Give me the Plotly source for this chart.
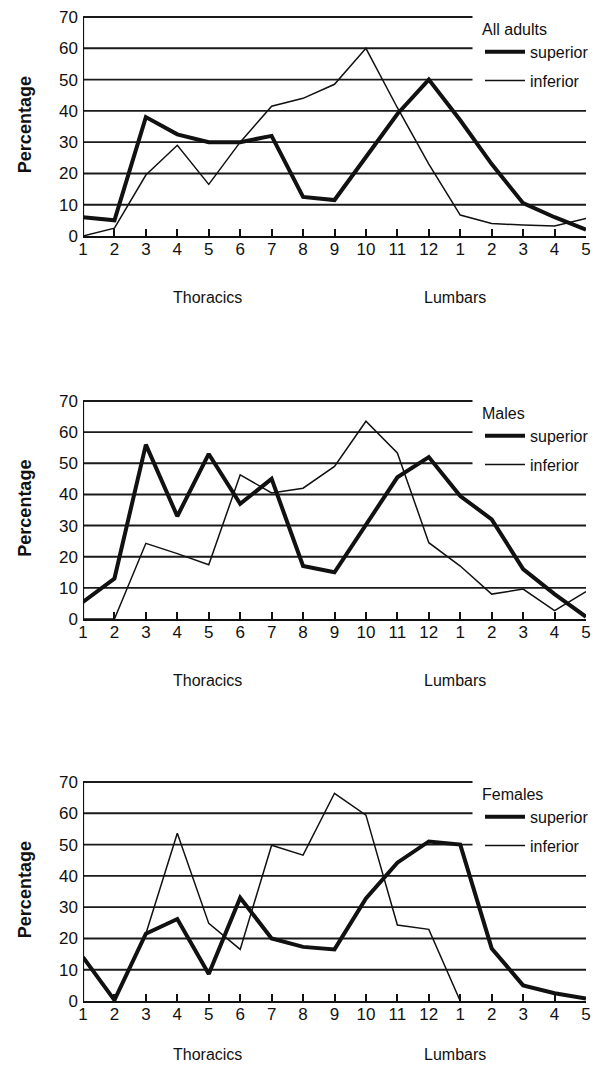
import plotly.graph_objects as go

# Vertebral positions: thoracic T1-T12 followed by lumbar L1-L5
tick_labels = ["1", "2", "3", "4", "5", "6", "7", "8", "9", "10", "11", "12",
               "1", "2", "3", "4", "5"]
positions = list(range(1, len(tick_labels) + 1))

# Percentages per vertebra (superior / inferior surfaces)
adults_superior = [6, 5, 38, 32.5, 30, 30, 32, 12.5, 11.5, 25, 39, 50, 37, 23, 10.5, 6, 2]
adults_inferior = [0, 2.5, 19.5, 29, 16.5, 30, 41.5, 44, 48.5, 60, 41, 23, 6.7, 4, 3.5, 3.2, 5.6]

males_superior = [5.5, 13, 56, 33, 53, 37, 45, 17, 15, 30, 45.5, 52, 39.5, 32, 16, 8, 0.7]
males_inferior = [0, 0, 24.3, 21, 17.4, 46.3, 40.5, 42, 49, 63.5, 53.3, 24.5, 17, 8, 9.6, 2.7, 8.8]

females_superior = [14, 0.3, 21.5, 26.2, 8.6, 33, 20, 17.3, 16.5, 32.8, 44.2, 51, 50, 16.8, 5, 2.5, 0.8]
females_inferior = [None, None, 21.5, 53.6, 24.8, 16.5, 49.8, 46.6, 66.4, 59.4, 24.3, 22.9, 0,
                    None, None, None, None]

panel_titles = ["All adults", "Males", "Females"]
series_names = ["superior", "inferior"]
y_ticks = [0, 10, 20, 30, 40, 50, 60, 70]

panels = [
    (panel_titles[0], adults_superior, adults_inferior),
    (panel_titles[1], males_superior, males_inferior),
    (panel_titles[2], females_superior, females_inferior),
]

W, H = 597, 1067
FONT = "Liberation Sans, Arial, Helvetica, sans-serif"
INK = "#111111"

# pixel geometry of each panel: (y of the 70 rule, y of the 0 axis, axis-label row)
panel_px = [(17, 236, 297), (401, 619, 680), (782, 1001, 1054)]
x_left, x_right = 83, 586
y_top_value = 71.2          # a little headroom so the top rule is not clipped
short_grid_end = 13.39      # upper rules stop short to leave room for the key

fig = go.Figure()
shapes = []
annotations = []

for i, (title, sup, inf) in enumerate(panels):
    n = i + 1
    xa = "x" if n == 1 else f"x{n}"
    ya = "y" if n == 1 else f"y{n}"
    leg = "legend" if n == 1 else f"legend{n}"
    top, bottom, label_row = panel_px[i]
    top_dom = bottom - (bottom - top) * y_top_value / 70.0

    fig.add_trace(go.Scatter(
        x=positions, y=sup, mode="lines", name=series_names[0],
        line=dict(color=INK, width=4), xaxis=xa, yaxis=ya,
        legend=leg, legendgroup=f"s{n}", connectgaps=False,
    ))
    fig.add_trace(go.Scatter(
        x=positions, y=inf, mode="lines", name=series_names[1],
        line=dict(color=INK, width=1.5), xaxis=xa, yaxis=ya,
        legend=leg, legendgroup=f"i{n}", connectgaps=False,
    ))

    axis_x = dict(
        domain=[x_left / W, x_right / W], range=[1, 17],
        tickmode="array", tickvals=positions, ticktext=tick_labels,
        showline=True, linecolor=INK, linewidth=2.2,
        ticks="inside", ticklen=7, tickwidth=1.8, tickcolor=INK,
        showgrid=False, zeroline=False, anchor=ya, automargin=False,
        tickfont=dict(family=FONT, size=17, color=INK),
        ticklabelstandoff=-4,
        fixedrange=True,
    )
    axis_y = dict(
        domain=[1 - bottom / H, 1 - top_dom / H], range=[0, y_top_value],
        tickmode="array", tickvals=y_ticks,
        showline=False, ticks="", showgrid=False, zeroline=False, anchor=xa,
        automargin=False,
        tickfont=dict(family=FONT, size=17, color=INK),
        ticklabelstandoff=4,
        title=dict(text="<b>Percentage</b>", standoff=22,
                   font=dict(family=FONT, size=18, color=INK)),
        fixedrange=True,
    )
    fig.update_layout({("xaxis" if n == 1 else f"xaxis{n}"): axis_x,
                       ("yaxis" if n == 1 else f"yaxis{n}"): axis_y})

    # left axis running from 0 up to 70
    shapes.append(dict(
        type="line", xref=xa, yref=ya, x0=1, x1=1, y0=0, y1=70,
        line=dict(color=INK, width=2.2), layer="above",
    ))
    # horizontal rules
    for v in y_ticks[1:]:
        shapes.append(dict(
            type="line", xref=xa, yref=ya, x0=1,
            x1=short_grid_end if v >= 50 else 17, y0=v, y1=v,
            line=dict(color="#1a1a1a", width=1.9), layer="below",
        ))

    # region labels under the axis
    for txt, xc in (("Thoracics", 207), ("Lumbars", 455)):
        annotations.append(dict(
            text=txt, xref="paper", yref="paper", x=xc / W, y=1 - label_row / H,
            xanchor="center", yanchor="middle", showarrow=False,
            font=dict(family=FONT, size=16, color=INK),
        ))

    # key for each panel
    fig.update_layout({leg: dict(
        x=480 / W, y=1 - (top - 3) / H, xanchor="left", yanchor="top",
        bgcolor="rgba(0,0,0,0)", borderwidth=0,
        font=dict(family=FONT, size=16, color=INK),
        title=dict(text=title, font=dict(family=FONT, size=16, color=INK)),
        tracegroupgap=5, traceorder="grouped", itemwidth=40,
    )})

fig.update_layout(
    width=W, height=H,
    margin=dict(l=0, r=0, t=0, b=0, autoexpand=False),
    paper_bgcolor="white", plot_bgcolor="white",
    showlegend=True,
    shapes=shapes, annotations=annotations,
    font=dict(family=FONT, color=INK),
)

fig.write_html("out.html")
